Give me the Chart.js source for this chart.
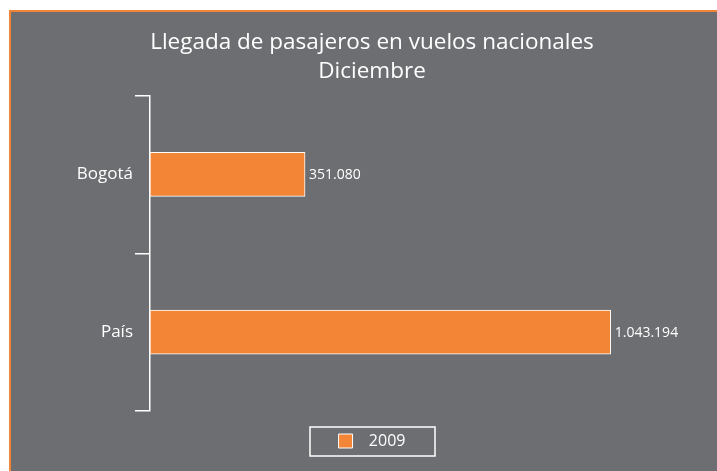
<!DOCTYPE html>
<html>
<head>
<meta charset="utf-8">
<script src="https://cdn.jsdelivr.net/npm/chart.js@4"></script>
<style>
  html, body { margin: 0; padding: 0; background: #ffffff; overflow: hidden; width: 717px; height: 471px; }
  #frame {
    position: absolute; left: 9px; top: 10px;
    width: 740px; height: 480px;
    border: 2px solid #f0853a;
    background: #6d6e72;
  }
  #wrap { position: absolute; left: 11px; top: 12px; width: 722px; height: 459px; }
</style>
</head>
<body>
<div id="frame"></div>
<div id="wrap"><canvas id="chart"></canvas></div>
<script>
const categories = ["Bogotá", "País"];
const values2009 = [351080, 1043194];
const seriesLabel = "2009";
const titleLines = ["Llegada de pasajeros en vuelos nacionales", "Diciembre"];

const FONT = "'Open Sans', 'Noto Sans', sans-serif";

function fmt(n) {
  return String(n).replace(/\B(?=(\d{3})+(?!\d))/g, ".");
}

// value labels at the end of each bar
const barLabels = {
  id: "barLabels",
  afterDatasetsDraw(chart) {
    const ctx = chart.ctx;
    const meta = chart.getDatasetMeta(0);
    ctx.save();
    ctx.fillStyle = "#ffffff";
    ctx.font = "14px " + FONT;
    ctx.textAlign = "left";
    ctx.textBaseline = "middle";
    meta.data.forEach((bar, i) => {
      ctx.fillText(fmt(chart.data.datasets[0].data[i]), bar.x + 4, bar.y + 1);
    });
    ctx.restore();
  }
};

// white frame round the legend
const legendFrame = {
  id: "legendFrame",
  afterDraw(chart) {
    const lg = chart.legend;
    if (!lg) return;
    const cx = (lg.left + lg.right) / 2;
    const cy = lg.top + 30.5;
    const ctx = chart.ctx;
    ctx.save();
    ctx.strokeStyle = "#ffffff";
    ctx.lineWidth = 1.5;
    ctx.strokeRect(Math.round(cx - 62.5), Math.round(cy - 14.5), 125, 29);
    ctx.restore();
  }
};

const ctx = document.getElementById("chart").getContext("2d");
new Chart(ctx, {
  type: "bar",
  data: {
    labels: categories,
    datasets: [{
      label: seriesLabel,
      data: values2009,
      backgroundColor: "#f28536",
      borderColor: "#ffffff",
      borderWidth: 1,
      borderSkipped: false,
      barThickness: 44
    }]
  },
  options: {
    indexAxis: "y",
    responsive: true,
    maintainAspectRatio: false,
    animation: false,
    layout: { padding: { top: 0, left: 0, right: 0, bottom: 12 } },
    plugins: {
      title: {
        display: true,
        text: titleLines,
        color: "#ffffff",
        font: { family: FONT, size: 22.5, weight: "normal", lineHeight: 1.3 },
        padding: { top: 16, bottom: 9 }
      },
      legend: {
        display: true,
        position: "bottom",
        labels: {
          color: "#ffffff",
          font: { family: FONT, size: 16 },
          boxWidth: 14,
          boxHeight: 14,
          padding: 22,
          generateLabels(chart) {
            const ds = chart.data.datasets[0];
            return [{
              text: "  " + ds.label,
              fillStyle: ds.backgroundColor,
              strokeStyle: "#ffffff",
              lineWidth: 1,
              fontColor: "#ffffff",
              datasetIndex: 0
            }];
          }
        }
      },
      tooltip: { enabled: false }
    },
    scales: {
      x: {
        display: false,
        min: 0,
        max: 1320000
      },
      y: {
        position: "left",
        afterFit(scale) { scale.width = 139; },
        border: { display: true, color: "#ffffff", width: 1.5 },
        grid: {
          display: true,
          offset: true,
          drawOnChartArea: false,
          drawTicks: true,
          tickLength: 15,
          color: "#ffffff",
          lineWidth: 1.5
        },
        ticks: {
          color: "#ffffff",
          font: { family: FONT, size: 17 },
          padding: 2
        }
      }
    }
  },
  plugins: [barLabels, legendFrame]
});
</script>
</body>
</html>
